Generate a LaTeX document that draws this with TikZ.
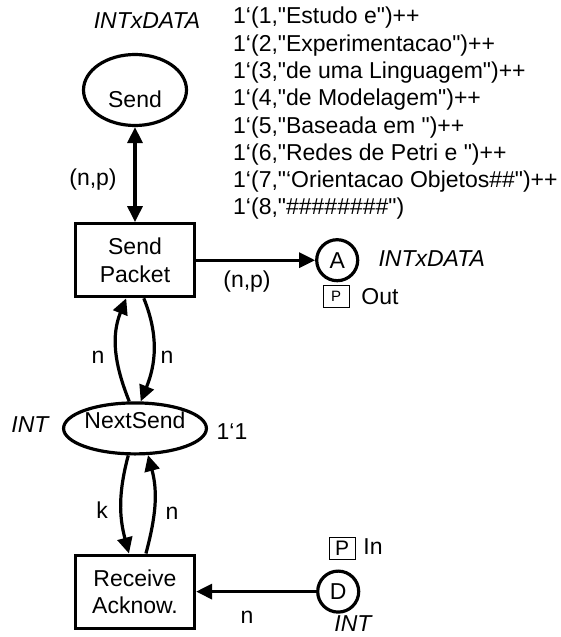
\documentclass[tikz,border=0pt]{standalone}
\usepackage{fontspec}
\setmainfont{Liberation Sans}[Ligatures=TeXOff]
\usepackage{tikz}
\usetikzlibrary{shapes.geometric, arrows.meta, positioning}
\tikzset{
    place_oval/.style={ellipse, draw, line width=3.2pt, inner sep=0pt},
    place_ring/.style={circle, draw, line width=3.2pt, inner sep=0pt, minimum size=41pt},
    trans_box/.style={rectangle, draw, line width=3.2pt, align=center, inner sep=0pt, minimum width=119pt, minimum height=73pt},
    port_tag/.style={rectangle, draw, line width=0.8pt, inner sep=0pt, minimum width=26pt, minimum height=22pt},
    colset/.style={font=\fontsize{23}{27.3}\selectfont\itshape},
    arc_line/.style={-{Triangle[length=16pt,width=15pt]}, line width=3.2pt},
    arc_both/.style={{Triangle[length=16pt,width=15pt]}-{Triangle[length=16pt,width=15pt]}, line width=3.2pt}
}

\begin{document}
\begin{tikzpicture}[x=1pt, y=1pt, font=\fontsize{23}{27.3}\selectfont]
\useasboundingbox (0,0) rectangle (561,-637);

\node (send) [place_oval, minimum width=103pt, minimum height=71pt,
    text height=34pt, text depth=0pt] at (135,-90) {Send};

\node (sendpacket) [trans_box, below=95pt of send] {Send\\Packet};

\node (nextsend) [place_oval, below=103pt of sendpacket,
    minimum width=139pt, minimum height=51pt,
    text height=16pt, text depth=16pt] {NextSend};

\node (receive) [trans_box, below=98pt of nextsend] {Receive\\Acknow.};

\node (portA) [place_ring, right=119pt of sendpacket] {A};
\node (portD) [place_ring, right=120pt of receive] {D};

% colour sets and initial markings
\node (sendtype) [colset] at (147,-21) {INTxDATA};
\node (sendmark) [anchor=north west, align=left, inner sep=0pt] at (233,-7)
    {1‘(1,"Estudo e")++\\
     1‘(2,"Experimentacao")++\\
     1‘(3,"de uma Linguagem")++\\
     1‘(4,"de Modelagem")++\\
     1‘(5,"Baseada em ")++\\
     1‘(6,"Redes de Petri e ")++\\
     1‘(7,"‘Orientacao Objetos\#\#")++\\
     1‘(8,"\#\#\#\#\#\#\#\#")};
\node (typeA) [colset, anchor=west] at (375,-259) {INTxDATA};
\node (nstype) [colset] at (30,-425) {INT};
\node (nsmark) at (232,-432) {1‘1};
\node (typeD) [colset] at (353,-624) {INT};

% port tags
\node (tagA) [port_tag, font=\fontsize{15}{18}\selectfont] at (336,-296) {P};
\node (outtxt) at (380,-297) {Out};
\node (tagD) [port_tag, font=\fontsize{21}{24}\selectfont] at (342,-548) {P};
\node (intxt) at (373,-547) {In};

% Main flow
\draw[arc_both] (send.south) -- (sendpacket.north);
\draw[arc_line] (sendpacket.east) -- (portA.west);
\draw[arc_line] (portD.west) -- (receive.east);

% loops through NextSend
\draw[arc_line] (nextsend.102) to[out=112,in=-112] (sendpacket.-103);
\draw[arc_line] (sendpacket.-77) to[out=-68,in=68] (nextsend.78);
\draw[arc_line] (nextsend.-104) to[out=-105,in=105] (receive.99);
\draw[arc_line] (receive.74) to[out=75,in=-75] (nextsend.-64);

% arc inscriptions
\node (npin) at (93,-180) {(n,p)};
\node (npout) at (247,-282) {(n,p)};
\node (nup) at (98,-357) {n};
\node (ndown) at (167,-357) {n};
\node (klbl) at (102,-510) {k};
\node (nback) at (172,-513) {n};
\node (nack) at (247,-617) {n};

\end{tikzpicture}
\end{document}
